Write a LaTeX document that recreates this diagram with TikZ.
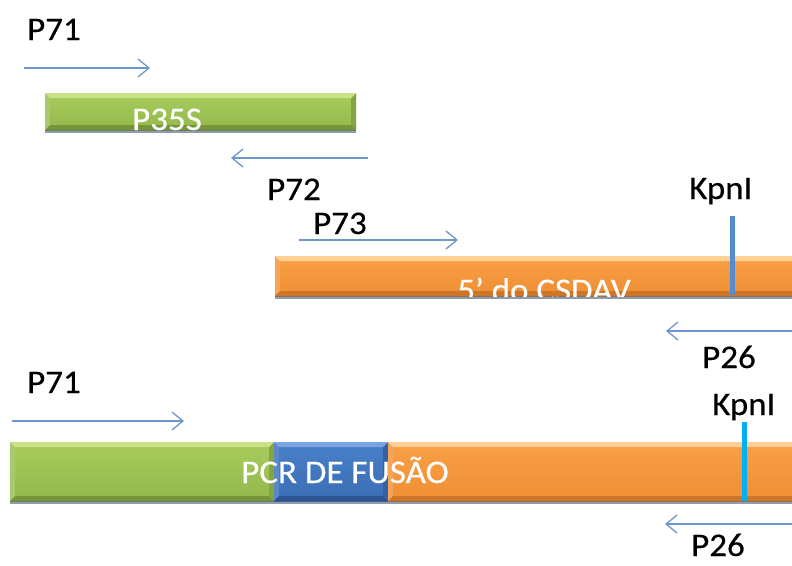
\documentclass[tikz,border=0pt]{standalone}
\usepackage{fontspec}
\setmainfont{Carlito}[FakeStretch=1.06,FakeBold=0.4]
\usetikzlibrary{arrows.meta}
\definecolor{grnB}{RGB}{155,192,80}
\definecolor{grnL}{RGB}{200,226,135}
\definecolor{grnS}{RGB}{168,204,92}
\definecolor{grnD}{RGB}{118,148,58}
\definecolor{orgB}{RGB}{247,148,56}
\definecolor{orgL}{RGB}{253,208,150}
\definecolor{orgS}{RGB}{250,160,70}
\definecolor{orgD}{RGB}{205,118,40}
\definecolor{bluB}{RGB}{62,116,190}
\definecolor{bluL}{RGB}{120,165,225}
\definecolor{bluS}{RGB}{72,128,200}
\definecolor{bluD}{RGB}{45,84,145}
\definecolor{arrc}{RGB}{110,150,204}
\definecolor{kpnA}{RGB}{84,140,212}
\definecolor{kpnB}{RGB}{0,176,240}
\definecolor{shad}{RGB}{70,88,120}
\newcommand\bevelbar[6]{%
  \node[barbase, top color=#6S, bottom color=#6B!80!#6D, minimum width={(#4-#2)*1pt}, minimum height={(#5-#3)*1pt}] (#1) at (#2,#3) {};
  \fill[shad, opacity=0.6] (#1.south west) rectangle ([yshift=-2.5pt]#1.south east);
  \fill[#6B!85!white] (#1.north west) -- ([shift={(5,5)}]#1.north west) -- ([shift={(5,-5)}]#1.south west) -- (#1.south west) -- cycle;
  \fill[#6D!60!#6B] (#1.north east) -- ([shift={(-5,5)}]#1.north east) -- ([shift={(-5,-5)}]#1.south east) -- (#1.south east) -- cycle;
  \fill[#6L] (#1.north west) -- (#1.north east) -- ([shift={(-5,5)}]#1.north east) -- ([shift={(5,5)}]#1.north west) -- cycle;
  \fill[#6D] (#1.south west) -- (#1.south east) -- ([shift={(-5,-5)}]#1.south east) -- ([shift={(5,-5)}]#1.south west) -- cycle;
}
\begin{document}
\begin{tikzpicture}[x=1pt,y=-1pt,
  barbase/.style={inner sep=0pt, outer sep=0pt, anchor=north west, draw=none},
  lbl/.style={font=\fontsize{33}{39}\selectfont, inner sep=0pt, anchor=base west, text=black},
  inbar/.style={font=\fontsize{33}{39}\selectfont, inner sep=0pt, anchor=base, text=white},
  primer/.style={draw=arrc, line width=1.3pt, -{Straight Barb[length=11pt,width=18pt,line width=1.3pt]}},
  kpnline/.style={line width=5pt}]
\useasboundingbox (0,0) rectangle (792,565);
\clip (0,0) rectangle (792,565);

% ---- P35S ----
\node[lbl] (t71a) at (27,40) {P71};
\coordinate (a1s) at (24,68); \coordinate (a1e) at (150,68);
\draw[primer] (a1s) -- (a1e);
\bevelbar{p35s}{45}{93}{356}{130}{grn}
\node[inbar] (p35st) at (167,130) {P35S};
\coordinate (a2s) at (368,158); \coordinate (a2e) at (231,158);
\draw[primer] (a2s) -- (a2e);
\node[lbl] (t72) at (267,200) {P72};

% ---- 5' do CSDAV ----
\node[lbl] (t73) at (313,234) {P73};
\coordinate (a3s) at (299,240); \coordinate (a3e) at (458,240);
\draw[primer] (a3s) -- (a3e);
\node[lbl] (kpn1) at (689,199) {KpnI};
\bevelbar{csdav}{275}{256}{800}{296}{org}
\begin{scope}
  \clip (csdav.north west) rectangle (csdav.south east);
  \node[inbar] (csdavt) at (544,301) {5’ do CSDAV};
\end{scope}
\coordinate (k1t) at (732,216); \coordinate (k1b) at (732,295);
\draw[kpnline, kpnA] (k1t) -- (k1b);
\coordinate (a4s) at (800,331); \coordinate (a4e) at (666,331);
\draw[primer] (a4s) -- (a4e);
\node[lbl] (t26a) at (702,368) {P26};

% ---- PCR de fusao ----
\node[lbl] (t71b) at (27,393) {P71};
\coordinate (a5s) at (12,421); \coordinate (a5e) at (184,421);
\draw[primer] (a5s) -- (a5e);
\node[lbl] (kpn2) at (712,415) {KpnI};
\bevelbar{fg}{10}{442}{274}{501}{grn}
\bevelbar{fb}{274}{442}{388}{501}{blu}
\bevelbar{fo}{388}{442}{800}{501}{org}
\node[inbar] (fust) at (345,483) {PCR DE FUSÃO};
\coordinate (k2t) at (744,422); \coordinate (k2b) at (744,501);
\draw[kpnline, kpnB] (k2t) -- (k2b);
\coordinate (a6s) at (800,524); \coordinate (a6e) at (665,524);
\draw[primer] (a6s) -- (a6e);
\node[lbl] (t26b) at (691,556) {P26};
\end{tikzpicture}
\end{document}
